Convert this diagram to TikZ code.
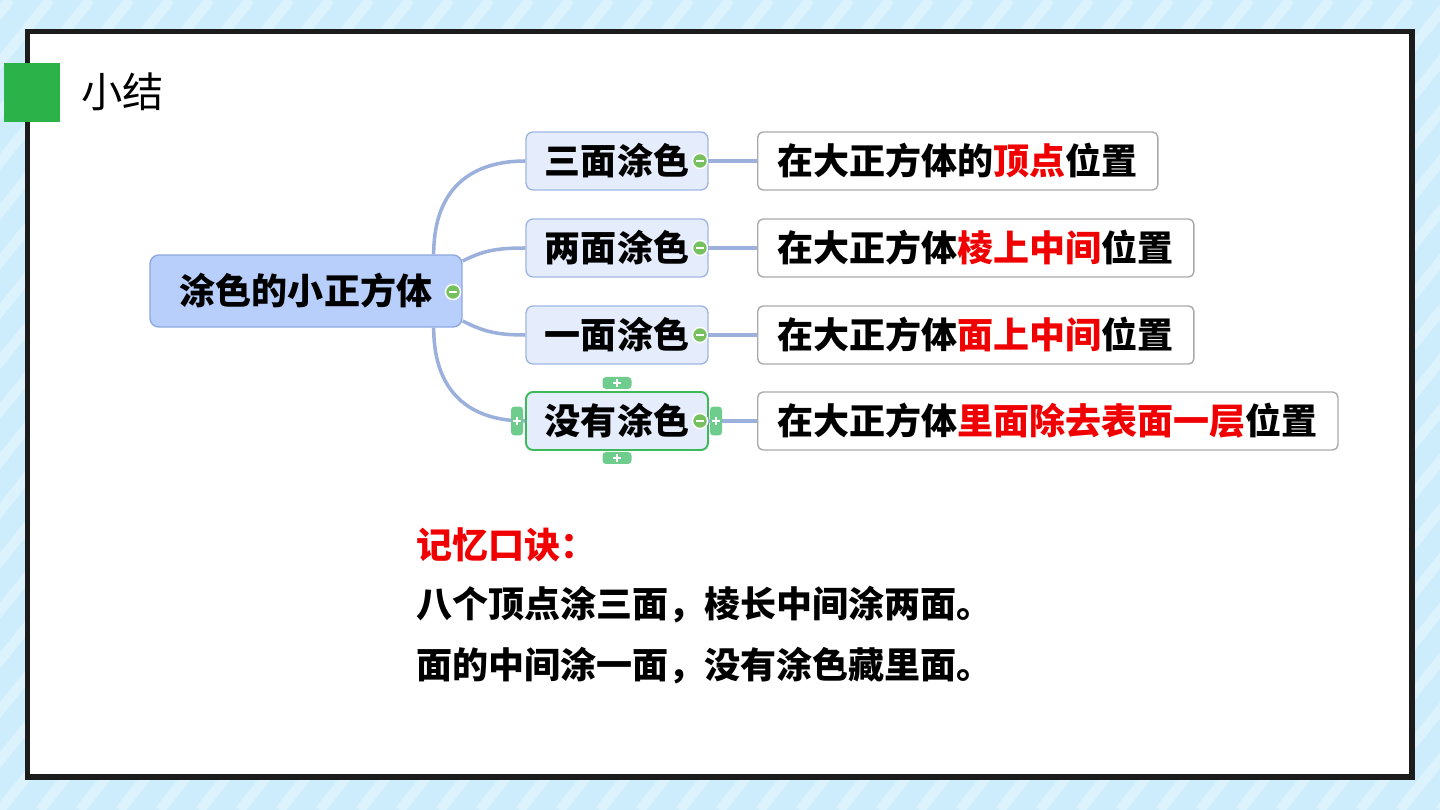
\documentclass[tikz,border=0pt]{standalone}
\usepackage{fontspec}
\usepackage{tikz}
\usetikzlibrary{calc}
\newfontfamily\cjk{Noto Sans CJK SC}
\definecolor{bgBlue}{RGB}{206,237,252}
\definecolor{frameDark}{RGB}{28,28,28}
\definecolor{titleGreen}{RGB}{43,179,74}
\definecolor{rootFill}{RGB}{183,207,250}
\definecolor{rootLine}{RGB}{140,168,224}
\definecolor{subFill}{RGB}{229,237,252}
\definecolor{subLine}{RGB}{160,182,226}
\definecolor{linkBlue}{RGB}{156,176,220}
\definecolor{leafLine}{RGB}{170,170,170}
\definecolor{btnGreen}{RGB}{118,192,96}
\definecolor{selGreen}{RGB}{60,185,90}
\definecolor{tabGreen}{RGB}{110,204,140}
\definecolor{keyRed}{RGB}{240,0,0}
\begin{document}
\begin{tikzpicture}[x=0.02cm,y=-0.02cm,
    bigfont/.style={font=\cjk\bfseries\fontsize{20.5}{24}\selectfont},
    root/.style={bigfont,draw=rootLine,fill=rootFill,line width=0.8pt,rounded corners=5pt,
      minimum width=6.24cm,minimum height=1.44cm,inner sep=0pt},
    topic/.style={bigfont,draw=subLine,fill=subFill,line width=0.8pt,rounded corners=4pt,
      minimum width=3.64cm,minimum height=1.16cm,inner sep=0pt},
    leaf/.style={bigfont,draw=leafLine,fill=white,line width=0.8pt,rounded corners=3pt,
      minimum height=1.16cm,inner xsep=0.4cm,inner ysep=0pt,anchor=west},
    link/.style={linkBlue,line width=2pt},
    btn/.style={circle,fill=btnGreen,draw=white,line width=0.8pt,minimum size=0.3cm,inner sep=0pt,
      path picture={\draw[white,line width=1.3pt]
        ([xshift=2pt]path picture bounding box.west) -- ([xshift=-2pt]path picture bounding box.east);}},
    tab/.style={fill=tabGreen,rounded corners=2pt,inner sep=0pt,
      path picture={\draw[white,line width=0.8pt]
        ([xshift=-2.5pt]path picture bounding box.center) -- ([xshift=2.5pt]path picture bounding box.center)
        ([yshift=-2.5pt]path picture bounding box.center) -- ([yshift=2.5pt]path picture bounding box.center);}},
    rhyme/.style={bigfont,anchor=west,inner sep=0pt},
    stripe/.style={white,opacity=0.3,line width=0.2cm}]
  \useasboundingbox (0,0) rectangle (1440,810);
  % background with stripes
  \fill[bgBlue] (0,0) rectangle (1440,810);
  \begin{scope}
    \clip (0,0) rectangle (1440,810);
    \foreach \i in {-18,...,37}
      \draw[stripe] (\i*40,810) -- ++(650,-810);
  \end{scope}
  % slide frame
  \draw[frameDark,line width=0.11cm,fill=white] (27.5,31.5) rectangle (1412,777);
  \fill[titleGreen] (4,63) rectangle (60,122);
  \node[anchor=west,inner sep=0pt,font=\cjk\fontsize{23.5}{27}\selectfont] (title) at (81,92) {小结};

  % mind map
  \node[root] (root) at (306,291) {涂色的小正方体};
  \node[topic] (t3) at (617,161) {三面涂色};
  \node[topic] (t2) at (617,248) {两面涂色};
  \node[topic] (t1) at (617,335) {一面涂色};
  \node[topic,draw=selGreen,line width=1.1pt] (t0) at (617,421) {没有涂色};

  \node[leaf] (l3) at (757,161) {在大正方体的\textcolor{keyRed}{顶点}位置};
  \node[leaf] (l2) at (757,248) {在大正方体\textcolor{keyRed}{棱上中间}位置};
  \node[leaf] (l1) at (757,335) {在大正方体\textcolor{keyRed}{面上中间}位置};
  \node[leaf] (l0) at (757,421) {在大正方体\textcolor{keyRed}{里面除去表面一层}位置};

  \draw[link] ($(root.north east)+(-29,0)$) .. controls +(0,-65) and +(-55,0) .. (t3.west);
  \draw[link] ($(root.east)+(0,-30)$) .. controls +(20,-10) and +(-30,0) .. (t2.west);
  \draw[link] ($(root.east)+(0,30)$) .. controls +(20,10) and +(-30,0) .. (t1.west);
  \draw[link] ($(root.south east)+(-29,0)$) .. controls +(0,65) and +(-55,0) .. (t0.west);

  % collapse buttons
  \node[btn] (b) at (453,292) {};
  \node[btn] (b3) at (700,161) {};
  \node[btn] (b2) at (700,248) {};
  \node[btn] (b1) at (700,335) {};
  \node[btn] (b0) at (700,421) {};
  \foreach \k in {0,...,3}
    \draw[link] (b\k) -- (l\k);

  % handles of the selected topic
  \node[tab,minimum width=0.58cm,minimum height=0.24cm] (hn) at (617,383) {};
  \node[tab,minimum width=0.58cm,minimum height=0.24cm] (hs) at (617,458) {};
  \node[tab,minimum width=0.24cm,minimum height=0.58cm] (hw) at (517,421) {};
  \node[tab,minimum width=0.24cm,minimum height=0.58cm] (he) at (716,421) {};
  \node[btn] at (b0) {};

  % rhyme
  \node[rhyme,text=keyRed] (r0) at (416,545) {记忆口诀：};
  \node[rhyme] (r1) at (416,605) {八个顶点涂三面，棱长中间涂两面。};
  \node[rhyme] (r2) at (416,666) {面的中间涂一面，没有涂色藏里面。};
\end{tikzpicture}
\end{document}
